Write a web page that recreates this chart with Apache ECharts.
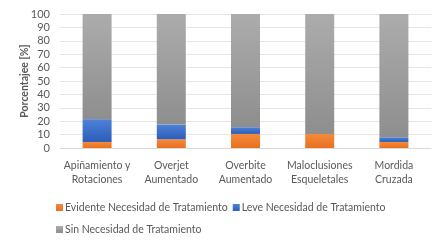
<!DOCTYPE html>
<html>
<head>
<meta charset="utf-8">
<script src="https://cdn.jsdelivr.net/npm/echarts@6/dist/echarts.min.js"></script>
<style>
html,body{margin:0;padding:0;background:#fff;}
#chart{width:444px;height:243px;}
</style>
</head>
<body>
<div id="chart"></div>
<script>
// categorias y porcentajes
var categories = ['Apiñamiento y\nRotaciones', 'Overjet\nAumentado', 'Overbite\nAumentado', 'Maloclusiones\nEsqueletales', 'Mordida\nCruzada'];
var evidente = [4.5, 6.5, 10.5, 10.5, 4.5];
var leve = [17, 11, 5, 0, 3.5];
var sinNecesidad = [78.5, 82.5, 84.5, 89.5, 92];
var seriesNames = ['Evidente Necesidad de Tratamiento', 'Leve Necesidad de Tratamiento', 'Sin Necesidad de Tratamiento'];

function grad(top, bottom) {
    return new echarts.graphic.LinearGradient(0, 0, 0, 1, [
        {offset: 0, color: top},
        {offset: 1, color: bottom}
    ]);
}

var myChart = echarts.init(document.getElementById('chart'));
var txt = '#595959';
var legendBase = {
    left: 51,
    itemWidth: 7,
    itemHeight: 7,
    itemGap: 5,
    icon: 'rect',
    textStyle: {color: txt, fontSize: 10.5, padding: [0, 0, 0, -3]}
};
var option = {
    animation: false,
    textStyle: {fontFamily: 'Lato'},
    grid: {left: 60, right: 13, top: 14, bottom: 95, outerBoundsMode: 'none', containLabel: false},
    legend: [
        Object.assign({top: 197, data: seriesNames.slice(0, 2)}, legendBase),
        Object.assign({top: 219, data: seriesNames.slice(2)}, legendBase)
    ],
    xAxis: {
        type: 'category',
        data: categories,
        axisLine: {lineStyle: {color: '#d9d9d9'}},
        axisTick: {show: false},
        axisLabel: {color: txt, fontSize: 10.5, lineHeight: 14, margin: 11, interval: 0}
    },
    yAxis: {
        type: 'value',
        min: 0,
        max: 100,
        interval: 10,
        name: 'Porcentajee [%]',
        nameLocation: 'middle',
        nameGap: 30,
        nameMoveOverlap: false,
        nameTextStyle: {color: txt, fontSize: 10.5, fontWeight: 'bold'},
        axisLabel: {color: txt, fontSize: 11, margin: 10},
        splitLine: {lineStyle: {color: '#e6e6e6'}}
    },
    series: [
        {
            name: seriesNames[0], type: 'bar', stack: 'total', barWidth: 29,
            itemStyle: {color: grad('#f58a3c', '#e8701f')},
            data: evidente
        },
        {
            name: seriesNames[1], type: 'bar', stack: 'total',
            itemStyle: {color: grad('#4d82d8', '#2d5db8')},
            data: leve
        },
        {
            name: seriesNames[2], type: 'bar', stack: 'total',
            itemStyle: {color: grad('#acacac', '#8e8e8e')},
            data: sinNecesidad
        }
    ]
};
myChart.setOption(option);
</script>
</body>
</html>
